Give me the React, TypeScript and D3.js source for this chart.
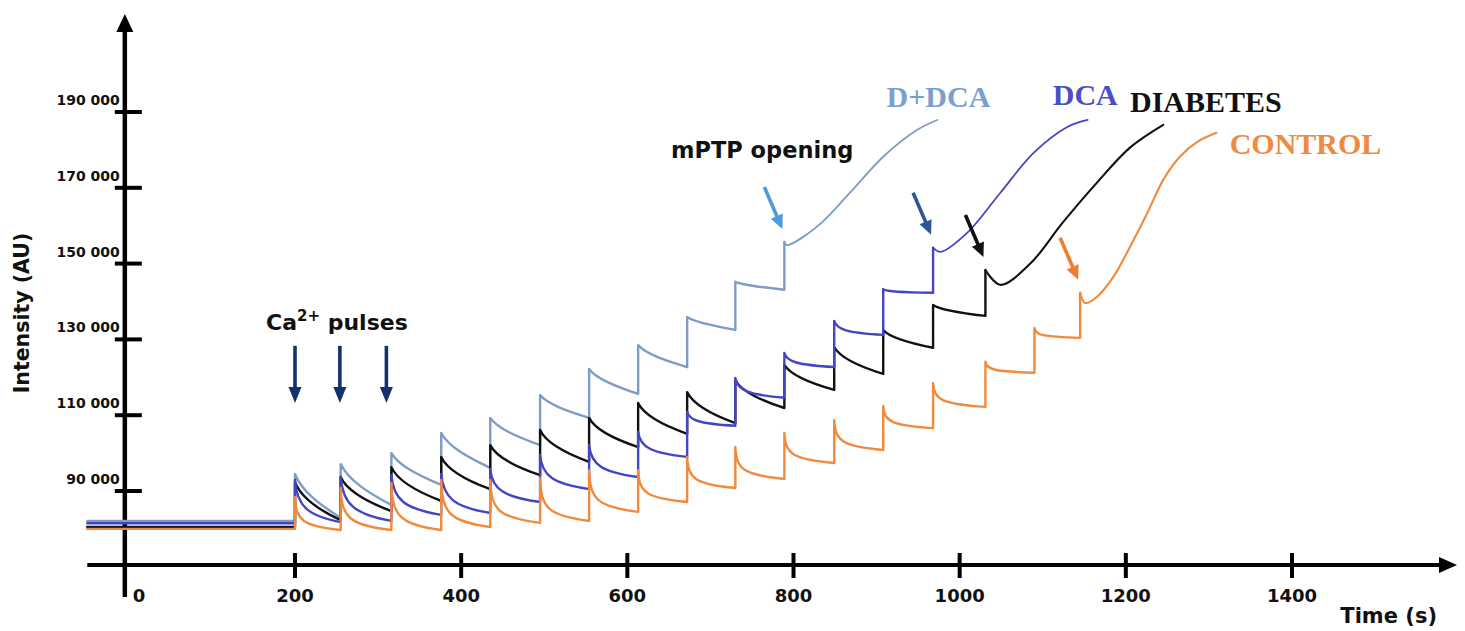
import React from 'react';
import * as d3 from 'd3';

const W = 1465;
const H = 631;

// times of the Ca2+ additions (s)
const pulseTimes = [200, 255, 316, 376, 435, 495, 554, 613, 672, 730, 789, 849, 908, 968, 1031, 1090, 1145];
const caArrowTimes = [200, 254, 310];
const xTicks = [200, 400, 600, 800, 1000, 1200, 1400];
const xTickLabels = ['200', '400', '600', '800', '1000', '1200', '1400'];
const yTicks = [90000, 110000, 130000, 150000, 170000, 190000];
const yTickLabels = ['90 000', '110 000', '130 000', '150 000', '170 000', '190 000'];

// D+DCA
const ddcaBase = 82100;
const ddcaPeaks = [94500, 97100, 100000, 105300, 109300, 115300, 122200, 128500, 135900, 145200, 155700];
const ddcaTroughs = [82900, 86300, 91600, 96100, 102100, 109300, 115600, 122700, 132500, 143100];
const ddcaRise = [[792, 154900], [828, 159700], [868, 168700], [908, 178200], [949, 185300], [973, 187900]];

// DCA
const dcaBase = 81500;
const dcaPeaks = [92900, 93700, 94200, 94500, 95800, 99500, 102100, 105600, 110900, 119800, 126400, 134900, 143300, 154200];
const dcaTroughs = [81800, 82100, 83700, 84200, 87100, 90500, 93700, 99000, 107200, 114600, 122700, 131200, 142300];
const dcaRise = [[977, 153100], [1009, 158100], [1049, 168700], [1089, 179200], [1130, 186100], [1154, 187900]];

// DIABETES
const diabBase = 80500;
const diabPeaks = [92400, 93700, 96300, 99000, 102100, 106100, 109300, 113200, 116100, 119300, 123300, 128000, 132500, 139100, 148300];
const diabTroughs = [82300, 84700, 87400, 90500, 94200, 97700, 101600, 105100, 107900, 111900, 116700, 120900, 127800, 136200];
const diabRise = [[1049, 144400], [1085, 150000], [1124, 160800], [1165, 171300], [1205, 180600], [1245, 186600]];

// CONTROL
const ctrlBase = 80000;
const ctrlPeaks = [88400, 90800, 92100, 92900, 92900, 93400, 95500, 95500, 99000, 101600, 105300, 108700, 112400, 118500, 124100, 133000, 142300];
const ctrlTroughs = [79700, 79700, 79700, 80500, 81600, 82100, 84500, 87100, 90800, 93200, 97400, 100800, 106600, 112200, 121200, 130400];
const ctrlRise = [[1151, 139600], [1165, 141200], [1185, 146500], [1205, 154400], [1226, 163400], [1245, 172100], [1265, 178200], [1286, 182100], [1309, 184500]];

const x = d3.scaleLinear().domain([200, 1400]).range([295, 1292]);
const y = d3.scaleLinear().domain([90000, 190000]).range([491, 112]);

const SANS = '"DejaVu Sans", sans-serif';
const SERIF = '"Liberation Serif", "Times New Roman", serif';

// shape = bezier handles of one decay, as fractions of the interval / of the drop
const series = [
  { name: 'D+DCA', color: '#7d9cc6', text: '#7b9fd0', arrow: '#4f9ad8', base: ddcaBase, peaks: ddcaPeaks, troughs: ddcaTroughs, rise: ddcaRise, shape: [0.15, 0.6, 0.55, 0.3], riseW: 1.8, label: [912, 191400] },
  { name: 'DIABETES', color: '#111111', text: '#111111', arrow: '#111111', base: diabBase, peaks: diabPeaks, troughs: diabTroughs, rise: diabRise, shape: [0.12, 0.6, 0.5, 0.28], riseW: 2.1, label: [1205, 190000] },
  { name: 'DCA', color: '#4545c4', text: '#4a4fc8', arrow: '#2f5597', base: dcaBase, peaks: dcaPeaks, troughs: dcaTroughs, rise: dcaRise, shape: [0.04, 0.38, 0.27, 0.15], riseW: 1.8, label: [1112, 191900] },
  { name: 'CONTROL', color: '#f28a3c', text: '#ef8a3f', arrow: '#ee7d31', base: ctrlBase, peaks: ctrlPeaks, troughs: ctrlTroughs, rise: ctrlRise, shape: [0.02, 0.28, 0.18, 0.12], riseW: 2.1, label: [1325, 179000] },
];

function sawPath(s) {
  const p = d3.path();
  p.moveTo(x(-50), y(s.base));
  p.lineTo(x(pulseTimes[0]), y(s.base));
  const [a, b, c, d] = s.shape;
  s.peaks.forEach((pk, i) => {
    const x0 = x(pulseTimes[i]);
    p.lineTo(x0, y(pk));
    if (i < s.troughs.length) {
      const x1 = x(pulseTimes[i + 1]);
      const y0 = y(pk), y1 = y(s.troughs[i]);
      p.bezierCurveTo(x0 + a * (x1 - x0), y1 + b * (y0 - y1), x0 + c * (x1 - x0), y1 + d * (y0 - y1), x1, y1);
    }
  });
  return p.toString();
}

const riseLine = d3.line().x(d => x(d[0])).y(d => y(d[1])).curve(d3.curveCatmullRom.alpha(0.5));

function Arrow({ x1, y1, x2, y2, color, w = 3.6, head = 15, half = 6.5 }) {
  const dx = x2 - x1, dy = y2 - y1;
  const len = Math.hypot(dx, dy);
  const ux = dx / len, uy = dy / len;
  const bx = x2 - ux * head, by = y2 - uy * head;
  const pts = [[x2, y2], [bx - uy * half, by + ux * half], [bx + uy * half, by - ux * half]];
  return (
    <g>
      <line x1={x1} y1={y1} x2={bx + ux * 2} y2={by + uy * 2} stroke={color} strokeWidth={w} />
      <polygon points={pts.map(q => q.join(',')).join(' ')} fill={color} />
    </g>
  );
}

export default function App() {
  const yAxisX = x(0) - 4;
  const xAxisY = 565;
  return (
    <svg width={W} height={H} style={{ position: 'absolute', left: 0, top: 0, background: '#fff' }}>
      {/* axes */}
      <line x1={x(-50)} y1={xAxisY} x2={1441} y2={xAxisY} stroke="#000" strokeWidth={4} />
      <polygon points={`1439,557 1457,565 1439,573`} fill="#000" />
      <line x1={yAxisX} y1={597} x2={yAxisX} y2={30} stroke="#000" strokeWidth={4.5} />
      <polygon points={`${yAxisX - 8.5},32 ${yAxisX},14 ${yAxisX + 8.5},32`} fill="#000" />
      {yTicks.map((v, i) => (
        <g key={v}>
          <line x1={yAxisX - 10} x2={yAxisX + 17} y1={y(v)} y2={y(v)} stroke="#000" strokeWidth={4} />
          <text x={yAxisX - 5} y={y(v) - 7} textAnchor="end" fontFamily={SANS} fontWeight="bold" fontSize={14} fill="#111">{yTickLabels[i]}</text>
        </g>
      ))}
      {xTicks.map((t, i) => (
        <g key={t}>
          <line x1={x(t)} x2={x(t)} y1={xAxisY - 12} y2={xAxisY + 13} stroke="#000" strokeWidth={4} />
          <text x={x(t)} y={602} textAnchor="middle" fontFamily={SANS} fontWeight="bold" fontSize={18} fill="#111">{xTickLabels[i]}</text>
        </g>
      ))}
      <text x={yAxisX + 8} y={602} fontFamily={SANS} fontWeight="bold" fontSize={18} fill="#111">0</text>
      <text x={1437} y={623} textAnchor="end" fontFamily={SANS} fontWeight="bold" fontSize={21} fill="#111">Time (s)</text>
      <text transform={`translate(29,313) rotate(-90)`} textAnchor="middle" fontFamily={SANS} fontWeight="bold" fontSize={20.5} fill="#111">Intensity (AU)</text>

      {/* traces */}
      {series.map(s => (
        <g key={s.name} fill="none" stroke={s.color} strokeLinejoin="round" strokeLinecap="round">
          <path d={sawPath(s)} strokeWidth={2.4} />
          <path d={riseLine([[pulseTimes[s.peaks.length - 1], s.peaks[s.peaks.length - 1]], ...s.rise])} strokeWidth={s.riseW} />
        </g>
      ))}

      {/* Ca2+ pulse arrows */}
      <text x={266} y={330} fontFamily={SANS} fontWeight="bold" fontSize={22} fill="#111">
        Ca<tspan fontSize={15} dy={-9}>2+</tspan><tspan dy={9}> pulses</tspan>
      </text>
      {caArrowTimes.map(t => (
        <Arrow key={t} x1={x(t)} y1={y(128300)} x2={x(t)} y2={y(113200)} color="#14306e" w={3.6} head={16} half={6.5} />
      ))}

      {/* mPTP opening arrows */}
      <text x={671} y={158} fontFamily={SANS} fontWeight="bold" fontSize={22.5} fill="#111">mPTP opening</text>
      {series.map(s => {
        const t = pulseTimes[s.peaks.length - 1];
        const tx = x(t) - 2, ty = y(s.peaks[s.peaks.length - 1]) - 13;
        return <Arrow key={s.name} x1={tx - 18} y1={ty - 42} x2={tx} y2={ty} color={s.arrow} w={3.6} head={14} half={6.5} />;
      })}

      {/* series labels */}
      {series.map(s => (
        <text key={s.name} x={x(s.label[0])} y={y(s.label[1])} fontFamily={SERIF} fontWeight="bold" fontSize={30} fill={s.text}>{s.name}</text>
      ))}
    </svg>
  );
}
